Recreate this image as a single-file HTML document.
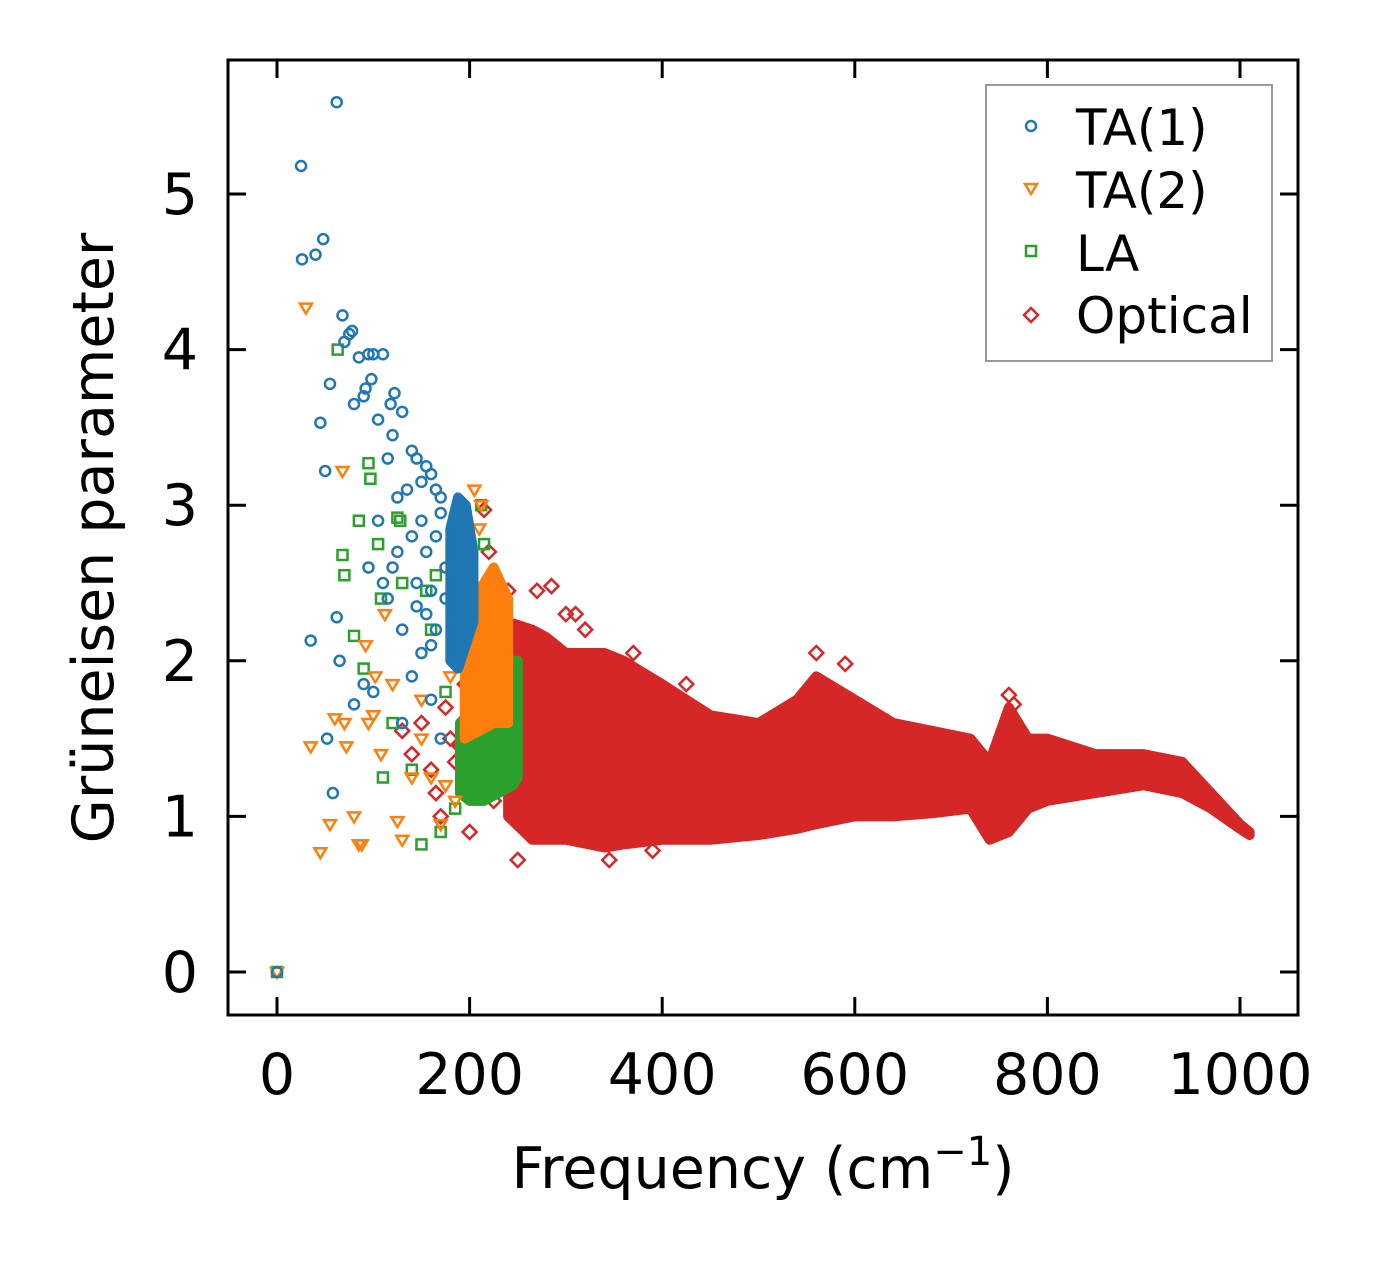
<!DOCTYPE html>
<html><head><meta charset="utf-8"><style>
body{margin:0;background:#fff;}
svg{display:block;font-family:"DejaVu Sans","Liberation Sans",sans-serif;}
</style></head><body>
<svg id="chart" width="1374" height="1264" viewBox="0 0 1374 1264">
<g id="marks"></g>
<rect x="228" y="60" width="1070" height="955" fill="none" stroke="#000" stroke-width="3"/>
<g id="axes"></g>
<text x="763" y="1188" font-size="57" text-anchor="middle">Frequency (cm<tspan dy="-23" font-size="40">−1</tspan><tspan dy="23">)</tspan></text>
<text transform="translate(113,538) rotate(-90)" font-size="57" text-anchor="middle">Grüneisen parameter</text>
<g>
<rect x="986" y="85" width="286" height="276" fill="#fff" stroke="#999" stroke-width="2"/>
<circle cx="1031" cy="126" r="5" fill="none" stroke="#1f77b4" stroke-width="2.5"/>
<text x="1076" y="145" font-size="50">TA(1)</text>
<path d="M1025,184 L1037,184 L1031,194 Z" fill="none" stroke="#ff7f0e" stroke-width="2.5"/>
<text x="1076" y="208" font-size="50">TA(2)</text>
<rect x="1026" y="246" width="10" height="10" fill="none" stroke="#2ca02c" stroke-width="2.5"/>
<text x="1076" y="271" font-size="50">LA</text>
<path d="M1031,308 L1038,315 L1031,322 L1024,315 Z" fill="none" stroke="#d62728" stroke-width="2.5"/>
<text x="1076" y="333" font-size="50">Optical</text>
</g>
</svg>
<script>
const xTicks=[0,200,400,600,800,1000];
const yTicks=[0,1,2,3,4,5];
// Optical band envelope
const optFreq=[240,265,280,300,340,360,400,450,500,540,560,600,640,680,720,740,760,780,800,850,900,940,970,1000,1010];
const optUpper=[2.25,2.2,2.15,2.05,2.05,2.0,1.85,1.65,1.6,1.75,1.9,1.75,1.6,1.55,1.5,1.35,1.7,1.5,1.5,1.4,1.4,1.35,1.15,0.95,0.9];
const optLower=[1.0,0.85,0.85,0.85,0.8,0.82,0.85,0.85,0.88,0.92,0.95,1.0,1.0,1.02,1.05,0.85,0.9,1.05,1.1,1.15,1.2,1.15,1.05,0.92,0.88];
const optX=[215,220,240,270,285,300,310,320,370,425,560,590,250,345,390,180,200,230,760,765,160,170,190,210,225,140,150,175,195,205,235,130,165,185,215];
const optY=[2.97,2.7,2.45,2.45,2.48,2.3,2.3,2.2,2.05,1.85,2.05,1.98,0.72,0.72,0.78,1.5,0.9,1.2,1.78,1.72,1.3,1.0,1.45,1.25,1.1,1.4,1.6,1.7,1.85,2.05,2.4,1.55,1.15,1.35,1.75];
// LA dense band
const laFreq=[190,205,220,235,245,250,250,245,230,215,200,190];
const laUpper=[1.6,1.7,1.8,1.9,2.0,2.0];
const laLower=[1.15,1.1,1.1,1.15,1.2,1.25];
const laX=[0,63,68,70,80,85,95,97,105,108,120,125,128,130,150,155,160,165,170,185,212,215,230,140,110,90,175];
const laY=[0,4.0,2.68,2.55,2.16,2.9,3.27,3.17,2.75,2.4,1.6,2.92,2.9,2.5,0.82,2.45,2.2,2.55,0.9,1.05,3.0,2.75,2.3,1.3,1.25,1.95,1.8];
// TA2 dense band
const ta2Freq=[195,210,225,240,240,225,210,195];
const ta2Upper=[2.2,2.45,2.6,2.4];
const ta2Lower=[1.5,1.55,1.6,1.6];
const ta2X=[0,30,45,55,60,68,70,72,80,85,88,92,95,100,102,108,112,120,125,130,140,150,160,170,185,205,210,212,220,35,150,175,180,190];
const ta2Y=[0,4.27,0.77,0.95,1.63,3.22,1.6,1.45,1.0,0.82,0.82,2.1,1.6,1.65,1.9,1.4,2.3,1.85,0.97,0.85,1.25,1.5,1.25,0.95,1.1,3.1,2.85,3.0,1.7,1.45,1.75,1.2,1.9,2.1];
// TA1 dense band
const ta1Freq=[180,188,196,204,204,196,188,180];
const ta1Upper=[2.85,3.05,3.0,2.7];
const ta1Lower=[2.0,1.95,2.1,2.25];
const ta1X=[0,25,26,40,48,45,62,68,70,75,78,80,55,52,58,62,85,90,92,95,98,100,105,110,115,118,120,122,125,130,135,140,145,150,155,160,165,170,105,110,115,120,125,130,145,150,155,160,80,90,100,50,35,160,170,140,130,95,65,150,155,165,170,175,140,145,160,165,175];
const ta1Y=[0,5.18,4.58,4.61,4.71,3.53,5.59,4.22,4.05,4.1,4.12,3.65,3.78,1.5,1.15,2.28,3.95,3.7,3.75,3.97,3.81,3.97,3.55,3.97,3.3,3.65,3.45,3.72,3.05,3.6,3.1,3.35,3.3,3.15,3.25,3.2,3.1,3.05,2.9,2.5,2.4,2.6,2.7,2.2,2.5,2.05,2.3,2.1,1.72,1.85,1.8,3.22,2.13,1.75,1.5,1.9,1.6,2.6,2.0,2.9,2.7,2.8,2.95,2.6,2.8,2.35,2.45,2.2,2.4];
const X=v=>277+v*0.963, Y=v=>972-v*155.6;
const NS="http://www.w3.org/2000/svg";
const marks=document.getElementById('marks'), axes=document.getElementById('axes');
function mk(tag,a,p){const e=document.createElementNS(NS,tag);for(const k in a)e.setAttribute(k,a[k]);p.appendChild(e);return e;}
function band(fr,up,lo,col,name){
 const n=up.length;let pts=[];
 if(fr.length===n*2){for(let i=0;i<n;i++)pts.push(X(fr[i])+','+Y(up[i]));for(let i=0;i<n;i++)pts.push(X(fr[n+i])+','+Y(lo[n-1-i]));}
 else{for(let i=0;i<n;i++)pts.push(X(fr[i])+','+Y(up[i]));for(let i=n-1;i>=0;i--)pts.push(X(fr[i])+','+Y(lo[i]));}
 const e=mk('polygon',{points:pts.join(' '),fill:col,stroke:col,'stroke-width':10,'stroke-linejoin':'round'},marks);
 
 
}
function pts(xs,ys,shape,col,name){
 for(let i=0;i<xs.length;i++){const x=X(xs[i]),y=Y(ys[i]);let e;
  if(shape==='c')e=mk('circle',{cx:x,cy:y,r:5,fill:'none',stroke:col,'stroke-width':2.5},marks);
  else if(shape==='t')e=mk('path',{d:`M${x-6},${y-4} L${x+6},${y-4} L${x},${y+6} Z`,fill:'none',stroke:col,'stroke-width':2.5},marks);
  else if(shape==='s')e=mk('rect',{x:x-5,y:y-5,width:10,height:10,fill:'none',stroke:col,'stroke-width':2.5},marks);
  else e=mk('path',{d:`M${x},${y-7} L${x+7},${y} L${x},${y+7} L${x-7},${y} Z`,fill:'none',stroke:col,'stroke-width':2.5},marks);
  
  
 }
}
band(optFreq,optUpper,optLower,'#d62728','optical-band');
pts(optX,optY,'d','#d62728','optical-point');
band(laFreq,laUpper,laLower,'#2ca02c','la-band');
pts(laX,laY,'s','#2ca02c','la-point');
band(ta2Freq,ta2Upper,ta2Lower,'#ff7f0e','ta2-band');
pts(ta2X,ta2Y,'t','#ff7f0e','ta2-point');
band(ta1Freq,ta1Upper,ta1Lower,'#1f77b4','ta1-band');
pts(ta1X,ta1Y,'c','#1f77b4','ta1-point');
xTicks.forEach(v=>{const x=X(v);
 let t=mk('line',{x1:x,x2:x,y1:1015,y2:997,stroke:'#000','stroke-width':3},axes);
 
 t=mk('line',{x1:x,x2:x,y1:60,y2:78,stroke:'#000','stroke-width':3},axes);
 
 const l=mk('text',{x:x,y:1094,'font-size':57,'text-anchor':'middle'},axes);l.textContent=v;
 
});
yTicks.forEach(v=>{const y=Y(v);
 let t=mk('line',{x1:228,x2:246,y1:y,y2:y,stroke:'#000','stroke-width':3},axes);
 
 t=mk('line',{x1:1280,x2:1298,y1:y,y2:y,stroke:'#000','stroke-width':3},axes);
 
 const l=mk('text',{x:198,y:y+20,'font-size':57,'text-anchor':'end'},axes);l.textContent=v;
 
});
</script>
</body></html>
